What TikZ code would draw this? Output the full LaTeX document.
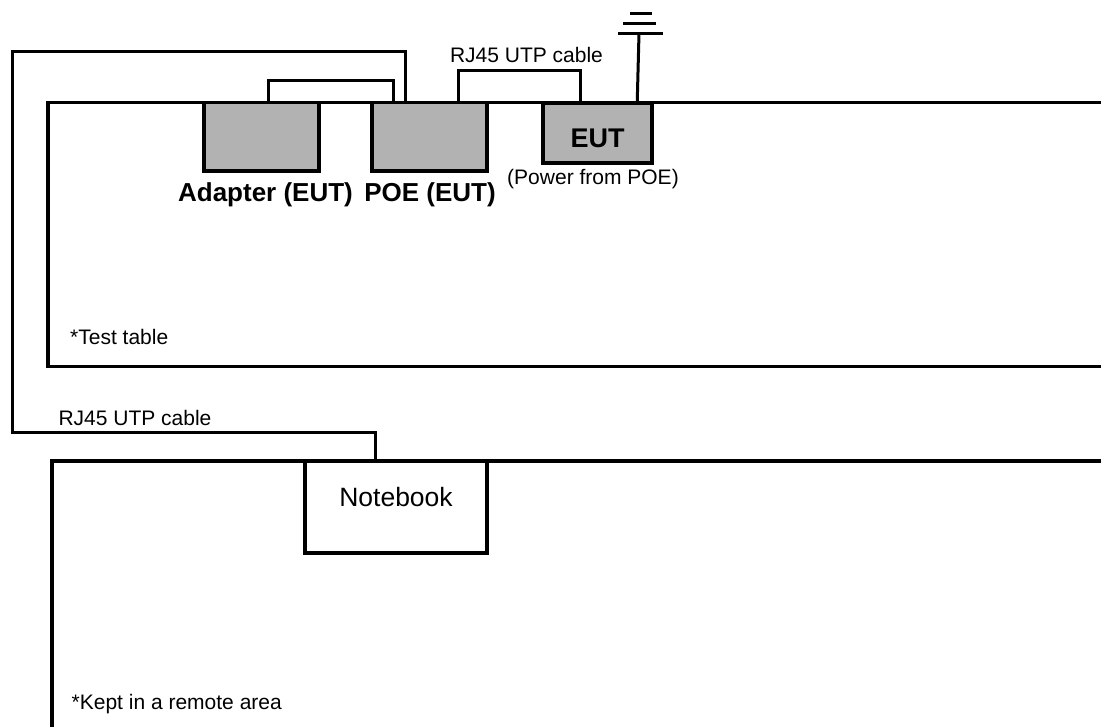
\documentclass[tikz,border=0pt]{standalone}
\usepackage{fontspec}
\setmainfont{Liberation Sans}
\usetikzlibrary{calc}
\definecolor{boxgray}{RGB}{178,178,178}
\tikzset{
  tableline/.style={line width=3.5pt, line join=miter},
  devbox/.style={draw, line width=3.5pt, fill=boxgray, inner sep=0pt},
  nbbox/.style={draw, line width=3.5pt, fill=white, inner sep=0pt},
  cable/.style={line width=3pt, line join=miter},
  lbl/.style={inner sep=0pt, anchor=base, font=\fontsize{21}{25}\selectfont},
  boldlbl/.style={inner sep=0pt, anchor=base, font=\fontsize{26}{30}\selectfont\bfseries},
}
\begin{document}
\begin{tikzpicture}[x=1pt, y=-1pt]
\useasboundingbox (0,0) rectangle (1101,727);
\clip (0,0) rectangle (1101,727);
% tables
\draw[tableline] (1120,102.5) -- (48,102.5) -- (48,366.5) -- (1120,366.5);
\draw[tableline] (1120,461) -- (52,461) -- (52,740);
% devices
\node[devbox, minimum width=115pt, minimum height=68.5pt] (adapter) at (261.5,136.75) {};
\node[devbox, minimum width=115pt, minimum height=68.5pt] (poe) at (429.5,136.75) {};
\node[devbox, minimum width=109pt, minimum height=60pt] (eut) at (597.5,133) {};
\node[nbbox, minimum width=182pt, minimum height=92pt] (notebook) at (396,507) {};
% texts
\node[boldlbl] (eutlbl) at (597.5,148) {\fontsize{27}{30}\selectfont EUT};
\node[boldlbl] (adlbl) at (265.5,201.5) {Adapter (EUT)};
\node[boldlbl] (poelbl) at (430,201.5) {POE (EUT)};
\node[lbl] (pwr) at (593,185) {(Power from POE)};
\node[lbl] (rj1) at (526.5,63) {RJ45 UTP cable};
\node[lbl] (rj2) at (135,425) {RJ45 UTP cable};
\node[lbl, anchor=base west] (tt) at (70,345) {*Test table};
\node[lbl, anchor=base west] (kr) at (71.5,709) {*Kept in a remote area};
\node[inner sep=0pt, anchor=base, font=\fontsize{26.5}{30}\selectfont] (nbt) at (396,506) {Notebook};
% cables
\coordinate (a1) at ($(adapter.north west)+(66,0)$);
\coordinate (p1) at ($(poe.north west)+(23,0)$);
\draw[cable] (a1) -- ++(0,-20) -| (p1);
\coordinate (p2) at ($(poe.north west)+(88,0)$);
\coordinate (e1) at ($(eut.north west)+(39,0)$);
\draw[cable] (p2) -- (p2 |- 0,70.7) -| (e1);
\coordinate (p3) at ($(poe.north west)+(35,0)$);
\coordinate (n1) at ($(notebook.north west)+(72.3,0)$);
\draw[cable] (p3) -- (p3 |- 0,51.7) -- (12,51.7) -- (12,432.5) -- (n1 |- 0,432.5) -- (n1);
% antenna
\coordinate (e2) at ($(eut.north west)+(96,0)$);
\coordinate (ant) at (639,33.3);
\draw[cable] (e2) -- (ant);
\draw[line width=3pt] (618,33.3) -- (663,33.3);
\draw[line width=3pt] (623,23.3) -- (656,23.3);
\draw[line width=2.5pt] (630,13.3) -- (652,13.3);
\end{tikzpicture}
\end{document}
